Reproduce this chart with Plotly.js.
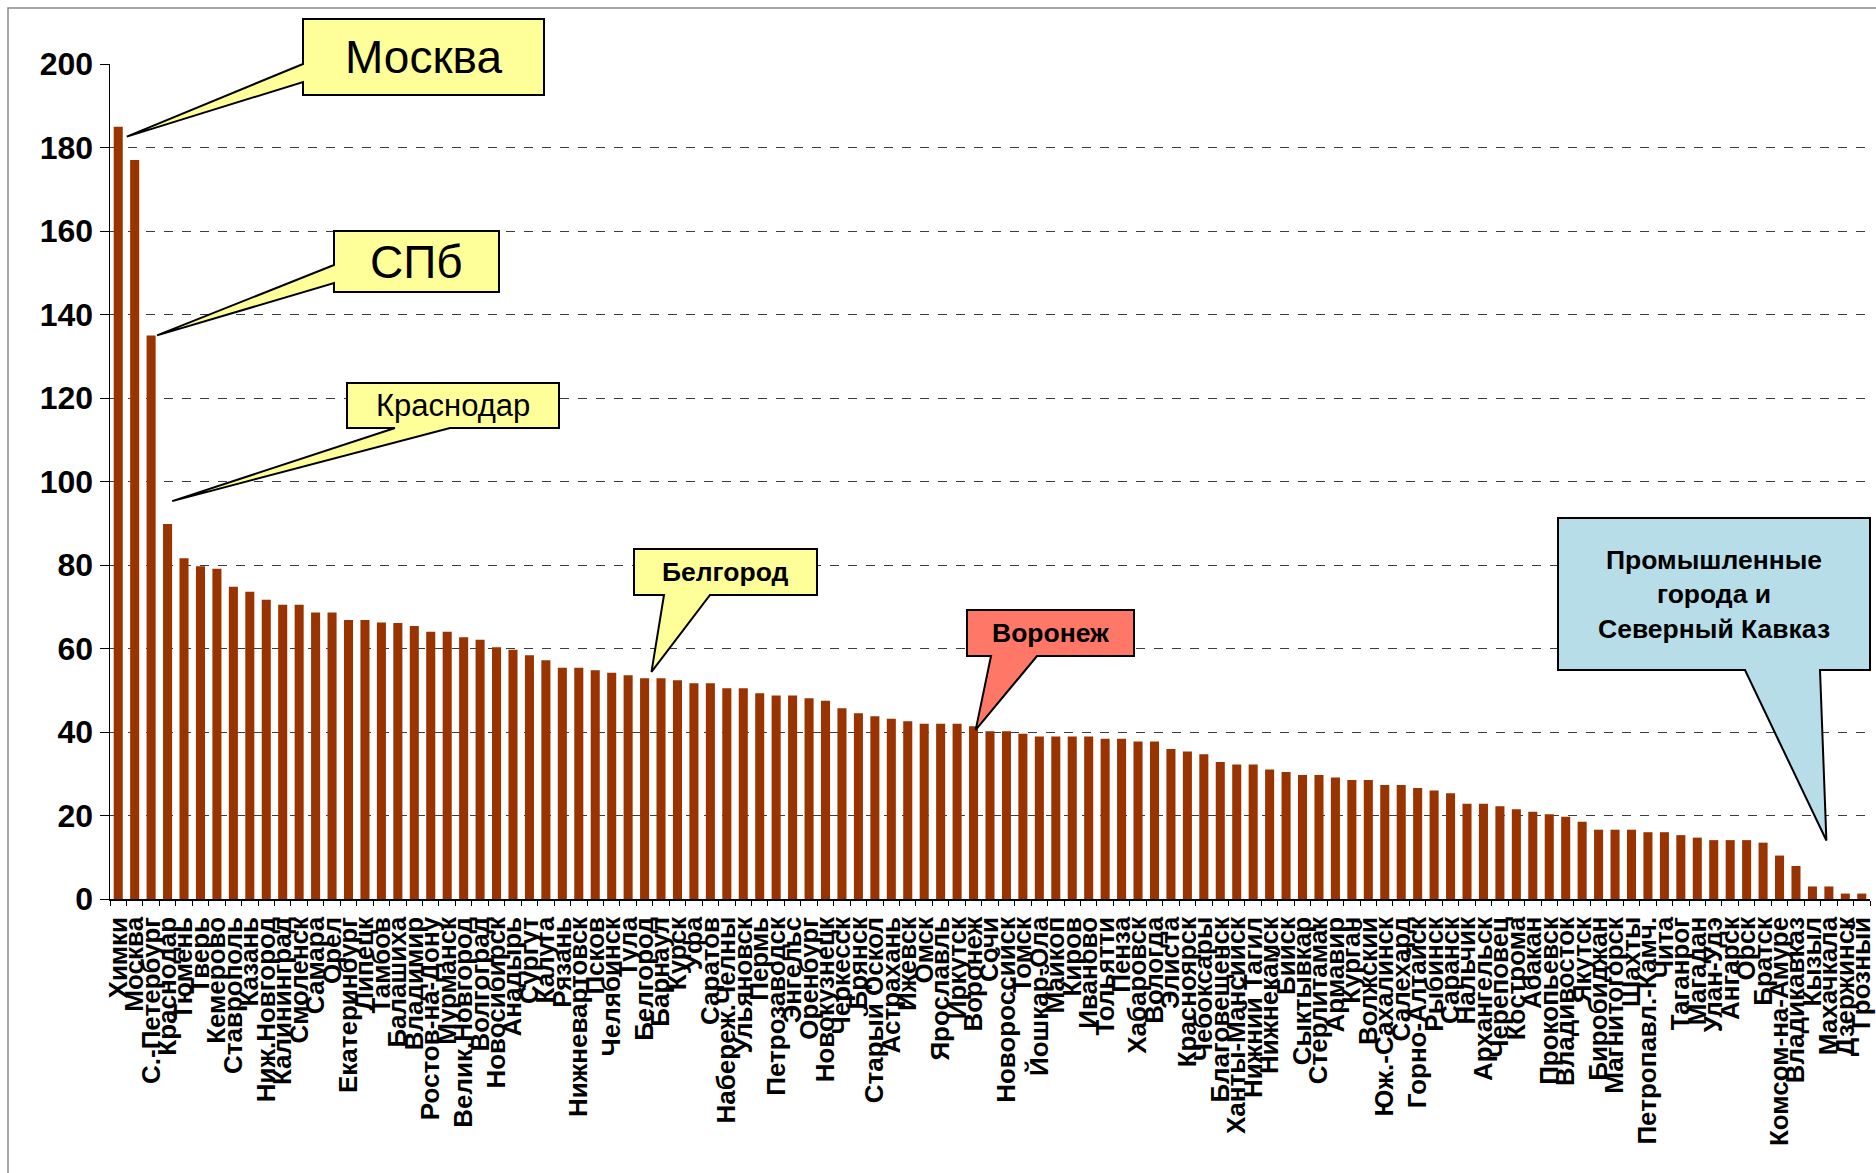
<!DOCTYPE html>
<html>
<head>
<meta charset="utf-8">
<script src="https://cdn.plot.ly/plotly-3.0.1.min.js"></script>
<style>
html,body{margin:0;padding:0;background:#fff;}
#chart{width:1876px;height:1173px;}
</style>
</head>
<body>
<div id="chart"></div>
<script>
const cities = [
"Химки","Москва","С.-Петербург","Краснодар","Тюмень","Тверь","Кемерово","Ставрополь","Казань","Ниж.Новгород",
"Калининград","Смоленск","Самара","Орел","Екатеринбург","Липецк","Тамбов","Балашиха","Владимир","Ростов-на-Дону",
"Мурманск","Велик.Новгород","Волгоград","Новосибирск","Анадырь","Сургут","Калуга","Рязань","Нижневартовск","Псков",
"Челябинск","Тула","Белгород","Барнаул","Курск","Уфа","Саратов","Набереж.Челны","Ульяновск","Пермь",
"Петрозаводск","Энгельс","Оренбург","Новокузнецк","Черкесск","Брянск","Старый Оскол","Астрахань","Ижевск","Омск",
"Ярославль","Иркутск","Воронеж","Сочи","Новороссийск","Томск","Йошкар-Ола","Майкоп","Киров","Иваново",
"Тольятти","Пенза","Хабаровск","Вологда","Элиста","Красноярск","Чебоксары","Благовещенск","Ханты-Мансийск","Нижний Тагил",
"Нижнекамск","Бийск","Сыктывкар","Стерлитамак","Армавир","Курган","Волжский","Юж.-Сахалинск","Салехард","Горно-Алтайск",
"Рыбинск","Саранск","Нальчик","Архангельск","Череповец","Кострома","Абакан","Прокопьевск","Владивосток","Якутск",
"Биробиджан","Магнитогорск","Шахты","Петропавл.-Камч.","Чита","Таганрог","Магадан","Улан-Удэ","Ангарск","Орск",
"Братск","Комсом-на-Амуре","Владикавказ","Кызыл","Махачкала","Дзержинск","Грозный"
];
const values = [
185,177,135,89.8,81.6,79.7,79.1,74.8,73.6,71.7,
70.5,70.5,68.6,68.6,66.8,66.8,66.2,66.1,65.4,64.0,
64.0,62.7,62.1,60.3,59.7,58.4,57.2,55.4,55.4,54.8,
54.2,53.6,52.9,52.9,52.4,51.7,51.7,50.5,50.5,49.3,
48.75,48.75,48.1,47.5,45.7,44.5,43.8,43.2,42.6,42.0,
42.0,42.0,41.35,40.2,40.2,39.6,38.9,38.9,38.9,38.9,
38.4,38.4,37.7,37.7,35.9,35.3,34.7,32.8,32.2,32.2,
31.0,30.4,29.7,29.7,29.1,28.5,28.5,27.3,27.3,26.6,
26.0,25.3,22.8,22.8,22.2,21.5,20.9,20.3,19.7,18.5,
16.6,16.6,16.6,16.0,16.0,15.3,14.7,14.1,14.1,14.1,
13.5,10.4,7.9,3.0,3.0,1.3,1.3
];
const yTicks = [0,20,40,60,80,100,120,140,160,180,200];

// Callouts: text, the city they point at, tip offset (in category bands / value units)
const callouts = [
  {text:"Москва", city:"Химки", dBand:0.52, dVal:-2.4, fill:"#FFFF99", size:46, bold:false,
   box:[303,19,544,95], edge:"left", base:[64,82]},
  {text:"СПб", city:"С.-Петербург", dBand:0.36, dVal:0, fill:"#FFFF99", size:46, bold:false,
   box:[334,231,499,292], edge:"left", base:[265,283]},
  {text:"Краснодар", city:"Краснодар", dBand:0.28, dVal:5.5, fill:"#FFFF99", size:31, bold:false,
   box:[347,383,559,428], edge:"bottom", base:[395,450]},
  {text:"Белгород", city:"Белгород", dBand:0.42, dVal:1.5, fill:"#FFFF99", size:26.5, bold:true,
   box:[634,549,817,595], edge:"bottom", base:[664,710]},
  {text:"Воронеж", city:"Воронеж", dBand:0.13, dVal:-0.85, fill:"#FF7766", size:26.5, bold:true,
   box:[967,610,1134,656], edge:"bottom", base:[991,1037]},
  {text:"Промышленные<br>города и<br>Северный Кавказ", city:"Кызыл", dBand:0.85, dVal:11.0, fill:"#B7DEE8", size:26.5, bold:true,
   box:[1558,518,1870,670], edge:"bottom", base:[1745,1820]}
];

const W = 1876, H = 1173;
const M = {l:110, r:6, t:64, b:274};
const PW = W - M.l - M.r, PH = H - M.t - M.b;
const YMAX = 200;
const px = X => (X - M.l) / PW;
const py = Y => (H - M.b - Y) / PH;
const N = cities.length;

const shapes = [];
const annotations = [];

// outer frame
shapes.push({type:"rect", xref:"paper", yref:"paper",
  x0:px(8), x1:px(W+20), y0:py(H+20), y1:py(8),
  line:{color:"#8c8c8c", width:1.5}, fillcolor:"rgba(0,0,0,0)", layer:"below"});

callouts.forEach(c => {
  const i = cities.indexOf(c.city);
  const tx = (i + 0.5 + c.dBand) / N;
  const ty = (values[i] + c.dVal) / YMAX;
  const [x0,y0,x1,y1] = c.box;
  let pts;
  if (c.edge === "left") {
    pts = [[px(x0),py(y0)],[px(x1),py(y0)],[px(x1),py(y1)],[px(x0),py(y1)],
           [px(x0),py(c.base[1])],[tx,ty],[px(x0),py(c.base[0])]];
  } else {
    pts = [[px(x0),py(y0)],[px(x1),py(y0)],[px(x1),py(y1)],
           [px(c.base[1]),py(y1)],[tx,ty],[px(c.base[0]),py(y1)],[px(x0),py(y1)]];
  }
  const path = "M" + pts.map(p => p[0].toFixed(5) + "," + p[1].toFixed(5)).join(" L") + " Z";
  shapes.push({type:"path", xref:"paper", yref:"paper", path:path,
    fillcolor:c.fill, line:{color:"#000", width:2}, layer:"above"});
  annotations.push({xref:"paper", yref:"paper", x:px((x0+x1)/2), y:py((y0+y1)/2),
    xanchor:"center", yanchor:"middle", showarrow:false, text:c.text,
    font:{family:"Liberation Sans, Arial, sans-serif", size:c.size, color:"#000", weight:c.bold?700:400}});
});

const trace = {
  type:"bar", x:cities, y:values,
  marker:{color:"#993300", line:{width:0}},
  hoverinfo:"x+y"
};

const layout = {
  width:W, height:H,
  margin:M,
  paper_bgcolor:"#fff", plot_bgcolor:"#fff",
  bargap:0.45,
  showlegend:false,
  font:{family:"Liberation Sans, Arial, sans-serif", color:"#000"},
  xaxis:{type:"category", tickmode:"linear", tick0:0, dtick:1, tickson:"boundaries",
    ticks:"outside", ticklen:5, tickcolor:"#000",
    tickangle:-90, tickfont:{size:26, weight:700, color:"#000"},
    showline:true, linecolor:"#000", linewidth:1.5, showgrid:false, zeroline:false,
    ticklabelstandoff:6},
  yaxis:{range:[0,YMAX], tickvals:yTicks, ticks:"outside", ticklen:9, tickcolor:"#000",
    tickfont:{size:32, weight:700, color:"#000"},
    showline:true, linecolor:"#000", linewidth:1.5, showgrid:true, gridcolor:"#3c3c3c",
    griddash:"dash", gridwidth:1, zeroline:false},
  shapes:shapes,
  annotations:annotations
};

Plotly.newPlot("chart", [trace], layout, {displayModeBar:false, staticPlot:true});
</script>
</body>
</html>
